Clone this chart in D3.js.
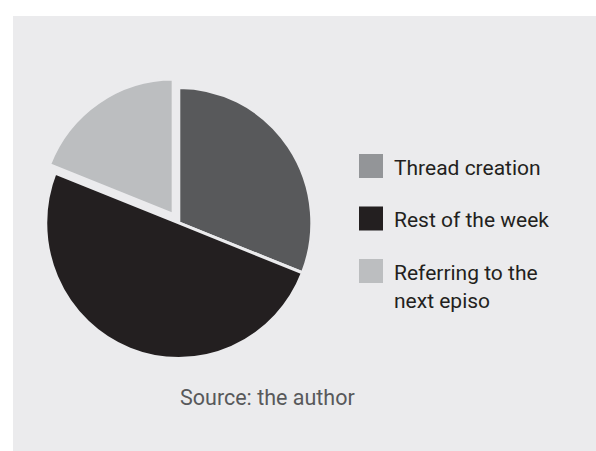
<!DOCTYPE html>
<html>
<head>
<meta charset="utf-8">
<script src="https://cdn.jsdelivr.net/npm/d3@7"></script>
<style>
  html, body { margin: 0; padding: 0; background: #ffffff; }
  svg { display: block; }
</style>
</head>
<body>
<div id="chart"></div>
<script>
// ---- data ----
const categories = ["Thread creation", "Rest of the week", "Referring to the next episo"];
const legendLines = [["Thread creation"], ["Rest of the week"], ["Referring to the", "next episo"]];
const values = [31, 50, 19];
const sliceColors = ["#58595b", "#231f20", "#bcbec0"];
const swatchColors = ["#939598", "#231f20", "#bcbec0"];
const explode = [0, 0, 10];
const sourceText = "Source: the author";

// ---- layout ----
const W = 596, H = 451;
const bg = "#ebebed";
const svg = d3.select("#chart").append("svg").attr("width", W).attr("height", H);

svg.append("rect").attr("x", 13).attr("y", 16).attr("width", W - 13).attr("height", H - 16).attr("fill", bg);

const cx = 178.8, cy = 222.9, r = 133;
const pie = d3.pie().sort(null).value(d => d);
const arcs = pie(values);
const arc = d3.arc().innerRadius(0).outerRadius(r);

const g = svg.append("g").attr("transform", `translate(${cx},${cy}) scale(1,1.019)`);
g.selectAll("path").data(arcs).join("path")
  .attr("d", arc)
  .attr("fill", (d, i) => sliceColors[i])
  .attr("stroke", bg)
  .attr("stroke-width", 3)
  .attr("stroke-linejoin", "miter")
  .attr("transform", (d, i) => {
    const a = (d.startAngle + d.endAngle) / 2;
    return `translate(${Math.sin(a) * explode[i]},${-Math.cos(a) * explode[i]})`;
  });

// ---- legend ----
const legendY = d3.scaleBand().domain(categories).range([154, 154 + 3 * 52.5]);
const lg = svg.append("g");
const items = lg.selectAll("g").data(categories).join("g")
  .attr("transform", d => `translate(359,${legendY(d)})`);
items.append("rect").attr("width", 24).attr("height", 24).attr("fill", (d, i) => swatchColors[i]);
items.append("text")
  .attr("x", 35).attr("y", 20.5)
  .attr("font-family", "Roboto, sans-serif")
  .attr("font-size", 21)
  .attr("fill", "#231f20")
  .each(function(d, i) {
    d3.select(this).selectAll("tspan").data(legendLines[i]).join("tspan")
      .attr("x", 35).attr("dy", (t, j) => j === 0 ? 0 : 28).text(t => t);
  });

svg.append("text")
  .attr("x", 180).attr("y", 405)
  .attr("font-family", "Roboto, sans-serif")
  .attr("font-size", 21.5)
  .attr("fill", "#58595b")
  .text(sourceText);
</script>
</body>
</html>
